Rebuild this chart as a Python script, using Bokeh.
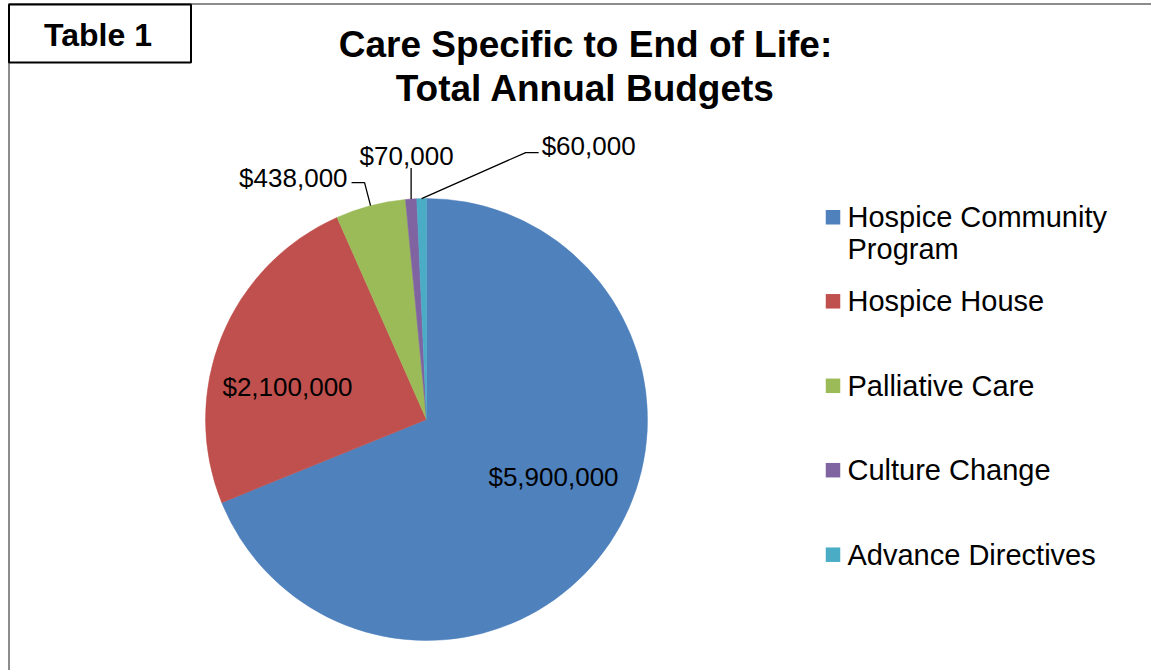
import textwrap
import numpy as np
from bokeh.plotting import figure
from bokeh.models import Range1d, ColumnDataSource
from bokeh.core.properties import value
from bokeh.embed import file_html
from bokeh.resources import INLINE

# ---------------- data ----------------
categories = ["Hospice Community Program", "Hospice House", "Palliative Care",
              "Culture Change", "Advance Directives"]
budgets = [5900000, 2100000, 438000, 70000, 60000]
colors = ["#4F81BD", "#C0504D", "#9BBB59", "#8064A2", "#4BACC6"]
title_lines = ["Care Specific to End of Life:", "Total Annual Budgets"]
tag_text = "Table 1"

# ---------------- layout (screen pixels) ----------------
W, H = 1151, 670
def Y(ys):
    return 670 - ys

FONT = value("Liberation Sans")
cx, cy, R = 426.0, 419.0, 221.0

p = figure(width=W, height=H, x_range=Range1d(0, W), y_range=Range1d(670 - H, 670),
           output_backend="svg", toolbar_location=None, min_border=0,
           x_axis_type=None, y_axis_type=None)
p.grid.visible = False
p.outline_line_color = None
p.background_fill_color = "white"
p.border_fill_color = "white"

# outer gray frame
p.line([8.5, 8.5, 1160], [Y(700), Y(3.5), Y(3.5)], line_color="#8C8C8C", line_width=2)

# "Table 1" tag box
p.quad(left=[8.5], right=[190.5], top=[Y(4)], bottom=[Y(62)], fill_color="white",
       line_color="black", line_width=2)
p.text(x=[97.5], y=[Y(34)], text=[tag_text], text_font=FONT, text_font_style="bold",
       text_font_size="32px", text_align="center", text_baseline="middle", text_color="black")

# title
p.text(x=[585, 585], y=[Y(44), Y(88)], text=title_lines, text_font=FONT,
       text_font_style="bold", text_font_size="37px", text_align="center",
       text_baseline="middle", text_color="black")

# pie
vals = np.array(budgets, dtype=float)
frac = vals / vals.sum()
cum = np.concatenate([[0.0], np.cumsum(frac)])
start = np.pi / 2 - 2 * np.pi * cum[:-1]
end = np.pi / 2 - 2 * np.pi * cum[1:]
mid = (start + end) / 2
src = ColumnDataSource(dict(start=start, end=end, color=colors, cat=categories))
p.wedge(x=cx, y=Y(cy), radius=R, start_angle="start", end_angle="end", direction="clock",
        fill_color="color", line_color="color", line_width=0.5, source=src)

labels = ["${:,}".format(v) for v in budgets]
edge_x = cx + R * np.cos(mid)
edge_y = Y(cy) + R * np.sin(mid)

# inside labels: offsets from pie centre
inside = {0: (127, 57), 1: (-139, -33)}
for i, (dx, dy) in inside.items():
    p.text(x=[cx + dx], y=[Y(cy + dy)], text=[labels[i]], text_font=FONT,
           text_font_size="26px", text_align="center", text_baseline="middle",
           text_color="black")

# outside labels with leader lines: (path offsets from edge point, label offset, align)
outside = {
    2: ([(-6, -23), (-19, -23)], (-23, -27.5), "right"),
    3: ([(0, -31)], (-4.5, -43.5), "center"),
    4: ([(104, -46), (117, -46)], (120, -53), "left"),
}
for i, (path, (lx, ly), align) in outside.items():
    xs = [edge_x[i]] + [edge_x[i] + dx for dx, dy in path]
    ys = [edge_y[i]] + [edge_y[i] - dy for dx, dy in path]
    p.line(xs, ys, line_color="black", line_width=1.3)
    p.text(x=[edge_x[i] + lx], y=[edge_y[i] - ly], text=[labels[i]], text_font=FONT,
           text_font_size="26px", text_align=align, text_baseline="middle",
           text_color="black")

# legend
legend_y = [216.7, 300.8, 385.3, 469.7, 554.2]
sq = 14.5
p.rect(x=[832.5] * len(categories), y=[Y(v) for v in legend_y], width=sq, height=sq,
       fill_color=colors, line_color=None)
for cat, ly in zip(categories, legend_y):
    for j, line in enumerate(textwrap.wrap(cat, 18)):
        p.text(x=[847], y=[Y(ly + j * 32)], text=[line], text_font=FONT,
               text_font_size="29px", text_align="left", text_baseline="middle",
               text_color="black")

open("out.html", "w").write(file_html(p, INLINE))
